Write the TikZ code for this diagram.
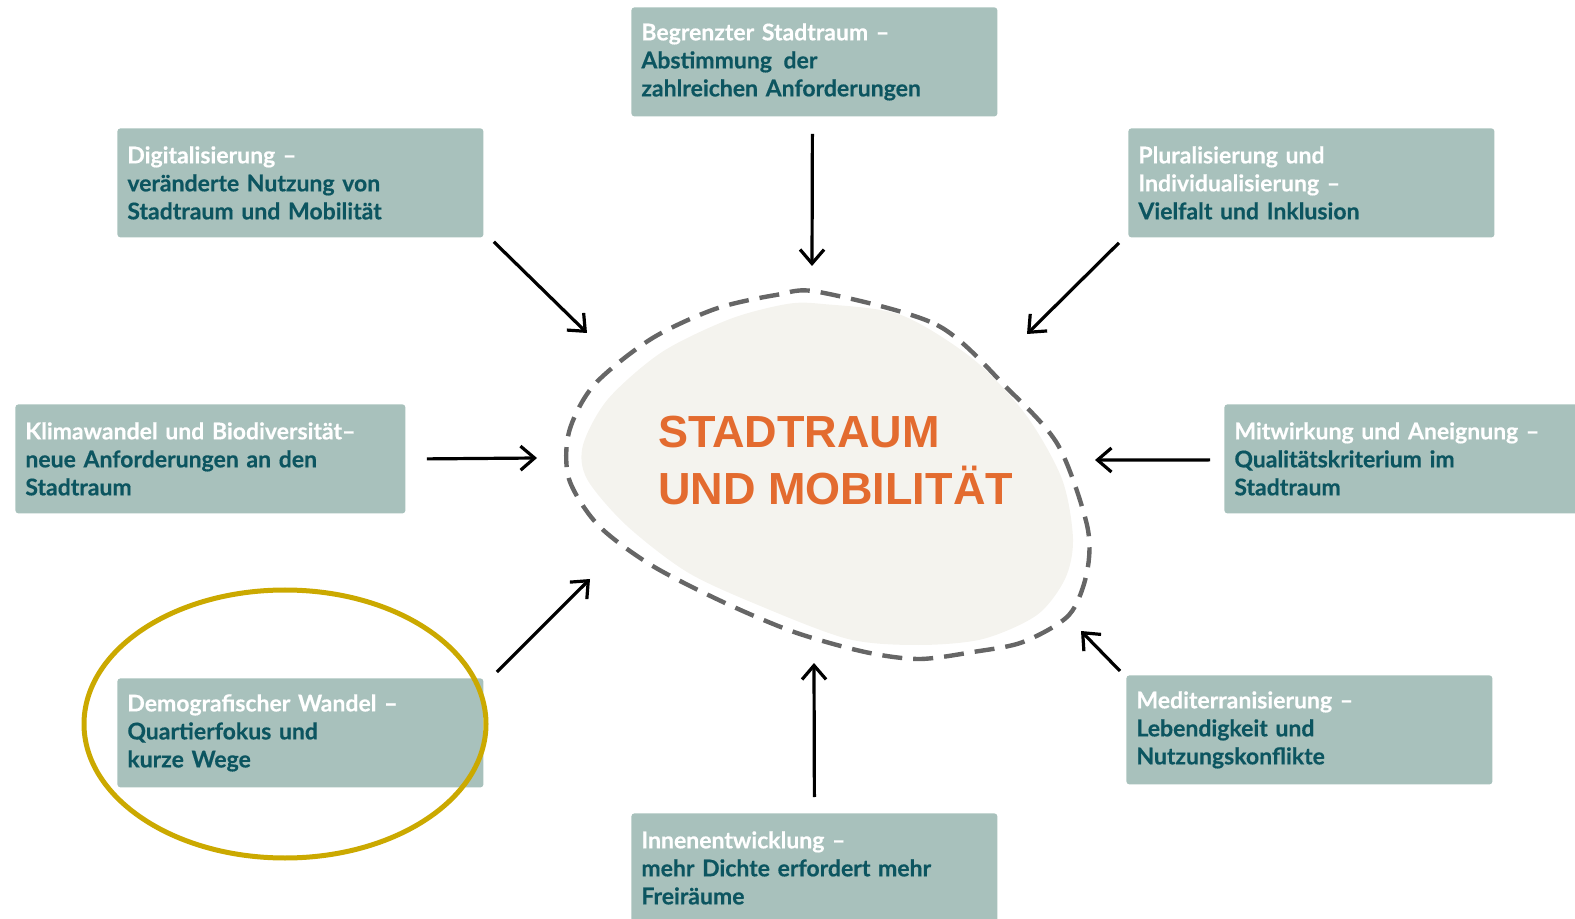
\documentclass[tikz,border=0pt]{standalone}
\usepackage{fontspec}
\setmainfont{Lato}[BoldFeatures={FakeBold=0.4}]
\newfontfamily\headfont{Liberation Sans}
\usetikzlibrary{arrows.meta}
\definecolor{boxgreen}{HTML}{A8C1BC}
\definecolor{boxtext}{HTML}{0C5560}
\definecolor{blobfill}{HTML}{F4F3EE}
\definecolor{titleorange}{HTML}{E36B2F}
\definecolor{ringyellow}{HTML}{CBA900}
\definecolor{dashgray}{HTML}{666666}
\newcommand{\hd}[1]{{\color{white}#1}}
\begin{document}
\begin{tikzpicture}[x=0.5pt,y=-0.5pt,
  factor/.style={fill=boxgreen,rounded corners=1.5pt,anchor=north west,
    minimum width=183pt,minimum height=54.5pt,text width=173pt,
    inner xsep=5pt,align=left,text=boxtext,
    font=\bfseries\fontsize{11.5}{14}\selectfont},
  push/.style={line width=1.6pt,-{Straight Barb[length=7pt,width=12pt]}}]
  \useasboundingbox (0,0) rectangle (1575,919);

  \begin{scope}[shift={(4,2)}]
    \fill[blobfill] plot[smooth cycle] coordinates {(819,302) (897,313)
      (969,357) (1022,413) (1058,477) (1069,537) (1061,577) (1033,613)
      (979,637) (915,643) (844,637) (754,603) (683,570) (622,523)
      (583,477) (579,443) (604,397) (658,350) (726,317) (783,302)};
    \draw[dashgray,line width=2.2pt,dash pattern=on 10pt off 5.5pt]
      plot[smooth cycle] coordinates {(815,290) (933,323) (1004,387)
      (1054,443) (1083,523) (1083,570) (1065,613) (1019,640) (969,650)
      (915,657) (861,650) (790,630) (719,600) (647,563) (594,523)
      (565,477) (565,430) (590,383) (647,337) (711,307) (772,293)};
  \end{scope}
  \node (core) [anchor=west,align=left,text=titleorange,
    font=\headfont\bfseries\fontsize{22.5}{28.5}\selectfont] at (651,461)
    {STADTRAUM\\UND MOBILITÄT};

  \node (top) [factor] at (631,7)
    {\hd{Begrenzter Stadtraum –}\\Abstimmung\enspace der\\zahlreichen Anforderungen};
  \node (digital) [factor] at (117,128)
    {\hd{Digitalisierung –}\\veränderte Nutzung von\\Stadtraum und Mobilität};
  \node (plural) [factor] at (1128,128)
    {\hd{Pluralisierung und}\\\hd{Individualisierung –}\\Vielfalt und Inklusion};
  \node (klima) [factor,minimum width=195pt,text width=185pt] at (15,404)
    {\hd{Klimawandel und Biodiversität–}\\neue Anforderungen an den\\Stadtraum};
  \node (mitwirk) [factor,minimum width=195pt,text width=185pt] at (1224,404)
    {\hd{Mitwirkung und Aneignung –}\\Qualitätskriterium im\\Stadtraum};
  \node (demo) [factor] at (117,678)
    {\hd{Demografischer Wandel –}\\Quartierfokus und\\kurze Wege};
  \node (medit) [factor] at (1126,675)
    {\hd{Mediterranisierung –}\\Lebendigkeit und\\Nutzungskonflikte};
  \node (innen) [factor] at (631,813)
    {\hd{Innenentwicklung –}\\mehr Dichte erfordert mehr\\Freiräume};

  \coordinate (top-in) at (812,266);
  \coordinate (digital-in) at (587,333);
  \coordinate (plural-in) at (1027,334);
  \coordinate (klima-in) at (537,458);
  \coordinate (mitwirk-in) at (1095,460);
  \coordinate (demo-in) at (590,579);
  \coordinate (innen-in) at (814,663);
  \coordinate (medit-in) at (1081,631);

  \draw[push] (top.south) ++(-2,17) -- (top-in);
  \draw[push] (digital.south east) ++(10,4) -- (digital-in);
  \draw[push] (plural.south west) ++(-9,5) -- (plural-in);
  \draw[push] (klima.east) ++(21,0) -- (klima-in);
  \draw[push] (mitwirk.west) ++(-14,1) -- (mitwirk-in);
  \draw[push] (demo.north east) ++(13,-6) -- (demo-in);
  \draw[push] (innen.north) ++(0,-16) -- (innen-in);
  \draw[push] (medit.north west) ++(-6,-4) -- (medit-in);

  \draw[ringyellow,line width=2.5pt] (285,724) ellipse [x radius=100.5pt,y radius=67pt];
\end{tikzpicture}
\end{document}
